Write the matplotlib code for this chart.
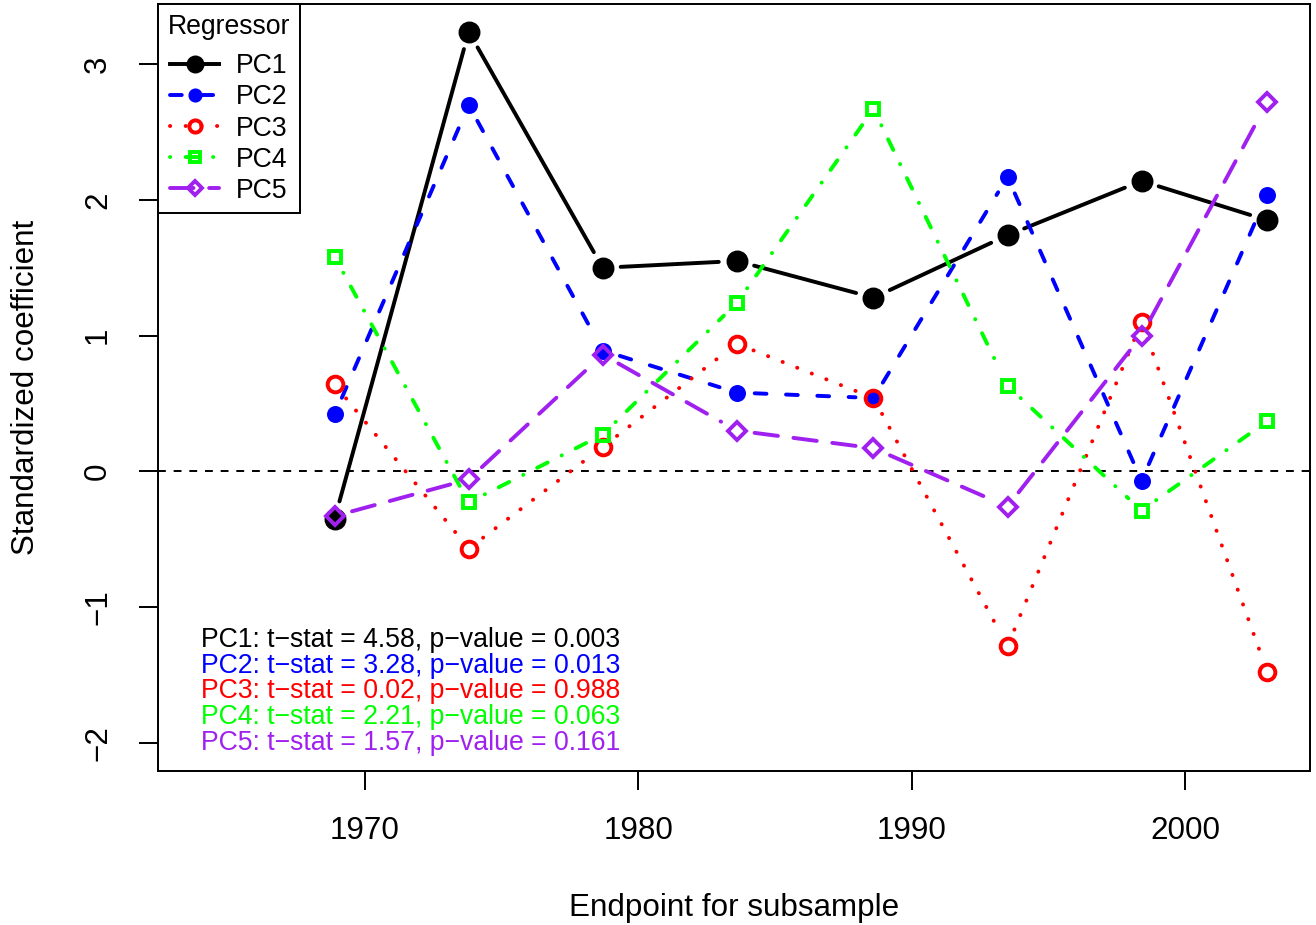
import numpy as np
import matplotlib
matplotlib.use('Agg')
from matplotlib import pyplot as plt
from matplotlib.lines import Line2D

plt.rcParams['font.family'] = ['Liberation Sans', 'DejaVu Sans']

# subsample endpoints and standardized coefficients
endpoints = [1968.9, 1973.8, 1978.7, 1983.6, 1988.6, 1993.5, 1998.4, 2003.0]
pc1 = [-0.35, 3.24, 1.50, 1.55, 1.28, 1.74, 2.14, 1.85]
pc2 = [0.42, 2.70, 0.89, 0.58, 0.54, 2.17, -0.07, 2.04]
pc3 = [0.64, -0.57, 0.18, 0.94, 0.54, -1.29, 1.10, -1.48]
pc4 = [1.58, -0.23, 0.27, 1.24, 2.67, 0.63, -0.29, 0.37]
pc5 = [-0.33, -0.06, 0.86, 0.30, 0.17, -0.26, 1.00, 2.72]

names = ['PC1', 'PC2', 'PC3', 'PC4', 'PC5']
tstats = ['4.58', '3.28', '0.02', '2.21', '1.57']
pvalues = ['0.003', '0.013', '0.988', '0.063', '0.161']

colors = ['black', '#0000FF', '#FF0000', '#00FF00', '#A020F0']
# R lty patterns (units of lwd), shortened for round caps: 1, "44", "13", "1343", "73"
dashes = [None, (3, 5), (0.05, 3.95), (0.05, 3.95, 3, 4), (6, 4)]
markers = ['o', 'o', 'o', 's', 'D']
msizes = [6.9, 5.0, 6.0, 4.7, 4.7]
filled = [True, True, False, False, False]

LW = 1.5
GAP = 18  # px gap around points, like R type = "b"

fig = plt.figure(figsize=(7, 925 / 188), dpi=188)
ax = fig.add_axes([158 / 1316, 1 - 771 / 925, 1152 / 1316, 767 / 925])

def rpad(lo, hi):
    d = (hi - lo) * 0.04
    return lo - d, hi + d

ax.set_xlim(*rpad(1964, 2003))
ax.set_ylim(*rpad(-2, 3.235))

ax.axhline(0, color='black', lw=0.75, dashes=(4, 4))

series = [pc1, pc2, pc3, pc4, pc5]
handles = []
for ys, col, ds, mk, ms, fl, nm in zip(series, colors, dashes, markers, msizes, filled, names):
    pts = ax.transData.transform(np.column_stack([endpoints, ys]))
    inv = ax.transData.inverted()
    for a, b in zip(pts[:-1], pts[1:]):
        v = b - a
        L = np.hypot(*v)
        if L <= 2 * GAP:
            continue
        u = v / L
        seg = inv.transform(np.array([a + u * GAP, b - u * GAP]))
        ln = Line2D(seg[:, 0], seg[:, 1], color=col, lw=LW,
                    solid_capstyle='round', dash_capstyle='round')
        if ds is not None:
            ln.set_dashes(ds)
        ax.add_line(ln)
    ax.plot(endpoints, ys, linestyle='none', marker=mk, ms=ms,
            mfc=col if fl else 'none', mec=col, mew=LW, clip_on=False)
    # legend symbols are drawn at legend cex in R, so a bit smaller
    h = Line2D([], [], color=col, lw=LW, marker=mk, ms=ms * 0.78,
               mfc=col if fl else 'none', mec=col, mew=LW,
               dash_capstyle='round')
    if ds is not None:
        h.set_dashes(ds)
    handles.append(h)

leg = ax.legend(handles, names, title='Regressor', loc='upper left',
                bbox_to_anchor=(0, 1), borderaxespad=0, fontsize=10.2,
                title_fontsize=10.2, handlelength=1.85, handletextpad=0.62,
                labelspacing=0.19, borderpad=0.36, fancybox=False,
                framealpha=1, edgecolor='black')
leg.get_frame().set_linewidth(0.75)
leg._legend_box.sep = 5.3  # extra room under the title, as in R

for i, (nm, t, p, col) in enumerate(zip(names, tstats, pvalues, colors)):
    ax.text(0.0373, 0.171 - i * 0.0335,
            f'{nm}: t\u2212stat = {t}, p\u2212value = {p}',
            transform=ax.transAxes, color=col, fontsize=10.2,
            ha='left', va='center')

ax.set_xticks([1970, 1980, 1990, 2000])
ax.set_yticks([-2, -1, 0, 1, 2, 3])
ax.set_yticklabels(['\u22122', '\u22121', '0', '1', '2', '3'],
                   rotation=90, va='center')
ax.tick_params(direction='out', length=7.2, width=0.75, labelsize=12, pad=10)
for s in ax.spines.values():
    s.set_linewidth(0.75)

ax.set_xlabel('Endpoint for subsample', fontsize=12, labelpad=18)
ax.set_ylabel('Standardized coefficient', fontsize=12, labelpad=16)

fig.savefig('out.png', dpi=188)
